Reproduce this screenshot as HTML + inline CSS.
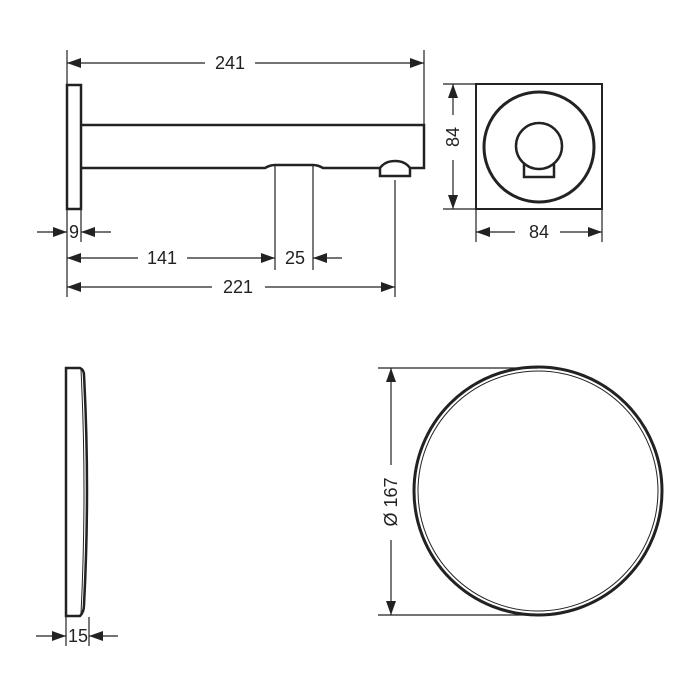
<!DOCTYPE html>
<html><head><meta charset="utf-8"><style>
html,body{margin:0;padding:0;background:#fff;}
svg{display:block}
text{font-family:"Liberation Sans",sans-serif;font-size:18px;fill:#222}
</style></head><body>
<svg width="700" height="700" viewBox="0 0 700 700" xmlns="http://www.w3.org/2000/svg">
<defs>
<marker id="a" viewBox="0 0 14 10" refX="14" refY="5" markerWidth="14" markerHeight="10" orient="auto-start-reverse" markerUnits="userSpaceOnUse"><path d="M0,0 L14,5 L0,10 Z" fill="#222"/></marker>
</defs>
<g stroke="#222" fill="none">
<rect x="67" y="85" width="14" height="124" stroke-width="2.5"/>
<path d="M81,125 H424 V168 H410" stroke-width="2.5"/>
<path d="M81,168 H265 Q270,165 275,165 H313 Q318,165 323,168 H380" stroke-width="2.5"/>
<path d="M380,176 V168 Q385,161 395,161 Q405,161 410,168 V176 Z" stroke-width="2.5"/>
<g stroke-width="1.2">
<line x1="67" y1="50" x2="67" y2="297"/>
<line x1="81" y1="209" x2="81" y2="242"/>
<line x1="424" y1="50" x2="424" y2="125"/>
<line x1="275" y1="166" x2="275" y2="270"/>
<line x1="313" y1="166" x2="313" y2="270"/>
<line x1="395" y1="180" x2="395" y2="297"/>
<line x1="67" y1="63" x2="205" y2="63" marker-start="url(#a)"/>
<line x1="255" y1="63" x2="424" y2="63" marker-end="url(#a)"/>
<line x1="37" y1="232" x2="67" y2="232" marker-end="url(#a)"/>
<line x1="111" y1="232" x2="81" y2="232" marker-end="url(#a)"/>
<line x1="67" y1="258" x2="138" y2="258" marker-start="url(#a)"/>
<line x1="187" y1="258" x2="275" y2="258" marker-end="url(#a)"/>
<line x1="342" y1="258" x2="313" y2="258" marker-end="url(#a)"/>
<line x1="67" y1="287" x2="212" y2="287" marker-start="url(#a)"/>
<line x1="265" y1="287" x2="395" y2="287" marker-end="url(#a)"/>
</g>
<rect x="476" y="84" width="126" height="125" stroke-width="2"/>
<circle cx="539" cy="147" r="55" stroke-width="3"/>
<circle cx="539" cy="146" r="23" stroke-width="2.5"/>
<path d="M524,163 V177 H554 V163" stroke-width="2.5"/>
<g stroke-width="1.2">
<line x1="443" y1="84" x2="476" y2="84"/>
<line x1="443" y1="209" x2="476" y2="209"/>
<line x1="476" y1="209" x2="476" y2="242"/>
<line x1="602" y1="209" x2="602" y2="242"/>
<line x1="453" y1="84" x2="453" y2="115" marker-start="url(#a)"/>
<line x1="453" y1="160" x2="453" y2="209" marker-end="url(#a)"/>
<line x1="476" y1="232" x2="515" y2="232" marker-start="url(#a)"/>
<line x1="560" y1="232" x2="602" y2="232" marker-end="url(#a)"/>
</g>
<path d="M66,368 H80 Q84,370 84,375 Q90,490 84,605 Q84,612 80,616 H66 Z" stroke-width="2.5"/>
<path d="M81,370 Q87,490 81,614" stroke-width="1"/>
<g stroke-width="1.2">
<line x1="66" y1="616" x2="66" y2="646"/>
<line x1="89" y1="617" x2="89" y2="646"/>
<line x1="36" y1="636" x2="66" y2="636" marker-end="url(#a)"/>
<line x1="118" y1="636" x2="89" y2="636" marker-end="url(#a)"/>
</g>
<circle cx="538" cy="491" r="124" stroke-width="3"/>
<circle cx="538" cy="491" r="120" stroke-width="1"/>
<g stroke-width="1.2">
<line x1="378" y1="368" x2="538" y2="368"/>
<line x1="378" y1="615" x2="538" y2="615"/>
<line x1="391" y1="368" x2="391" y2="465" marker-start="url(#a)"/>
<line x1="391" y1="540" x2="391" y2="615" marker-end="url(#a)"/>
</g>
</g>
<text x="230" y="69" text-anchor="middle">241</text>
<text x="74" y="238" text-anchor="middle">9</text>
<text x="162" y="264" text-anchor="middle">141</text>
<text x="295" y="264" text-anchor="middle">25</text>
<text x="238" y="293" text-anchor="middle">221</text>
<text x="539" y="238" text-anchor="middle">84</text>
<text transform="translate(459,137) rotate(-90)" text-anchor="middle">84</text>
<text x="78" y="642" text-anchor="middle">15</text>
<text transform="translate(397,502) rotate(-90)" text-anchor="middle">Ø 167</text>
</svg>
</body></html>
